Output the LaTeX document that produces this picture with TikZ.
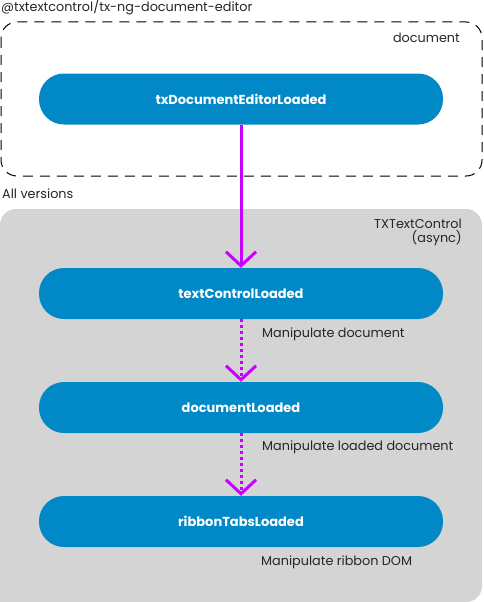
\documentclass[tikz,border=0pt]{standalone}
\usepackage{fontspec}
\setmainfont{Poppins}
\usetikzlibrary{arrows.meta}
\definecolor{evblue}{HTML}{0089C6}
\definecolor{evmag}{HTML}{C800FF}
\definecolor{grpgray}{HTML}{D4D4D4}
\tikzset{
  evnode/.style={fill=evblue, draw=none, rounded corners=25pt, minimum width=404pt, minimum height=51pt, text=white, font=\bfseries\fontsize{13pt}{15pt}\selectfont, inner sep=0pt},
  lbl/.style={font=\fontsize{12.8pt}{14pt}\selectfont, text=black!85, inner sep=0pt},
  flow/.style={draw=evmag, line width=3pt, -{Straight Barb[length=14pt,width=30pt,line width=3pt]}},
  dotflow/.style={flow, dash pattern=on 3pt off 3pt},
}
\begin{document}
\begin{tikzpicture}[x=1pt,y=-1pt]
\useasboundingbox (0,0) rectangle (484,602);
% groups
\draw[dash pattern=on 10pt off 7pt, line width=1pt, rounded corners=16pt] (1,22) rectangle (482,176);
\fill[grpgray, rounded corners=16pt] (0,209) rectangle (482,602);
\fill[grpgray] (0,560) rectangle (20,602);
% labels
\node[lbl, anchor=west] (pkg) at (1,7) {@txtextcontrol/tx-ng-document-editor};
\node[lbl, anchor=east] (doclbl) at (460,38) {document};
\node[lbl, anchor=west] (allv) at (2,194) {All versions};
\node[lbl, anchor=north east, align=right] (txtc) at (462,219) {TXTextControl\\(async)};
% nodes
\node[evnode] (a) at (241,99) {txDocumentEditorLoaded};
\node[evnode] (b) at (241,293.5) {textControlLoaded};
\node[evnode] (c) at (241,407.5) {documentLoaded};
\node[evnode] (d) at (241,521.5) {ribbonTabsLoaded};
% connectors
\draw[flow] (a.south) -- (b.north);
\draw[dotflow] (b.south) -- (c.north);
\draw[dotflow] (c.south) -- (d.north);
% connector labels
\node[lbl, anchor=west] (m1) at (262,334) {Manipulate document};
\node[lbl, anchor=west] (m2) at (262,447) {Manipulate loaded document};
\node[lbl, anchor=west] (m3) at (261,562) {Manipulate ribbon DOM};
\end{tikzpicture}
\end{document}
